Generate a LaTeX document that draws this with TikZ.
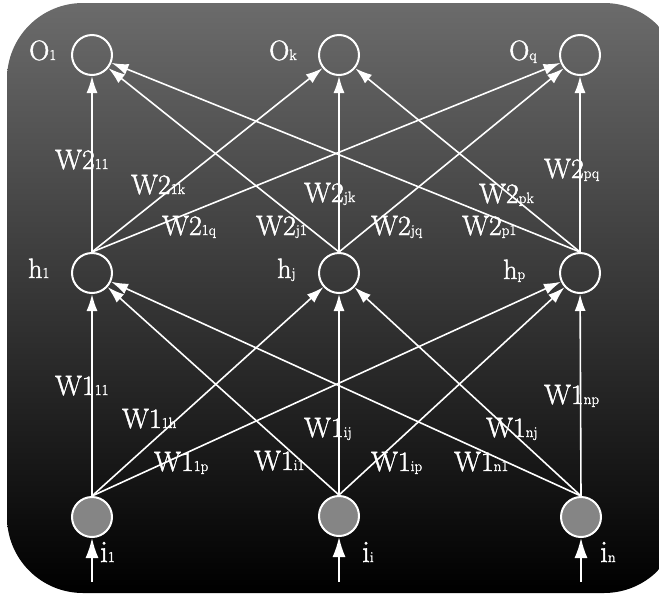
\documentclass[tikz,border=0pt]{standalone}
\usepackage{fontspec}
\usepackage{tikz}
\usetikzlibrary{arrows.meta}
\newfontfamily\labfont{Latin Modern Roman}[FakeBold=1.6]
\newcommand{\sublab}[2]{#1{\fontsize{15}{15}\selectfont #2}}

\begin{document}
\begin{tikzpicture}[x=1pt, y=-1pt,
    unit/.style={circle, draw=white, line width=2pt, minimum size=40pt, inner sep=0pt},
    inunit/.style={unit, fill=black!48},
    wire/.style={white, line width=1.6pt, -{Latex[length=17pt,width=11pt]}},
    feed/.style={wire, -{Latex[length=20pt,width=13pt]}},
    lbl/.style={text=white, anchor=base west, inner sep=0pt, font=\labfont\fontsize{28}{30}\selectfont},
    inlbl/.style={lbl, font=\labfont\fontsize{31}{34}\selectfont}]
    \useasboundingbox (0,0) rectangle (659,595);
    \shade[top color=black!58, middle color=black!70, bottom color=black, rounded corners=76pt] (7,3) rectangle (680,593);
    % units
    \node[unit] (o1) at (92,55) {};
    \node[unit] (ok) at (339,55) {};
    \node[unit] (oq) at (580,55) {};
    \node[unit] (h1) at (92,273) {};
    \node[unit] (hj) at (339,273) {};
    \node[unit] (hp) at (580,273) {};
    \node[inunit] (i1) at (92,517) {};
    \node[inunit] (ii) at (339,516) {};
    \node[inunit] (in) at (581,517) {};
    % unit names
    \node[lbl] (to1) at (29,60) {\sublab{O}{1}};
    \node[lbl] (tok) at (269,60) {\sublab{O}{k}};
    \node[lbl] (toq) at (509,60) {\sublab{O}{q}};
    \node[lbl] (th1) at (28,278) {\sublab{h}{1}};
    \node[lbl] (thj) at (277,278) {\sublab{h}{j}};
    \node[lbl] (thp) at (503,279) {\sublab{h}{p}};
    \node[inlbl] (ti1) at (100,562) {\sublab{i}{1}};
    \node[inlbl] (tii) at (362,562) {\sublab{i}{i}};
    \node[inlbl] (tin) at (600,562) {\sublab{i}{n}};
    % hidden -> output
    \draw[wire] (h1.north) -- (o1);
    \draw[wire] (h1.north) -- (ok);
    \draw[wire] (h1.north) -- (oq);
    \draw[wire] (hj.north) -- (o1);
    \draw[wire] (hj.north) -- (ok);
    \draw[wire] (hj.north) -- (oq);
    \draw[wire] (hp.north) -- (o1);
    \draw[wire] (hp.north) -- (ok);
    \draw[wire] (hp.north) -- (oq);
    % input -> hidden
    \draw[wire] (i1.north) -- (h1);
    \draw[wire] (i1.north) -- (hj);
    \draw[wire] (i1.north) -- (hp);
    \draw[wire] (ii.north) -- (h1);
    \draw[wire] (ii.north) -- (hj);
    \draw[wire] (ii.north) -- (hp);
    \draw[wire] (in.north) -- (h1);
    \draw[wire] (in.north) -- (hj);
    \draw[wire] (in.north) -- (hp);
    % inputs
    \coordinate (b1) at (92,582);
    \coordinate (bi) at (339,582);
    \coordinate (bn) at (581,582);
    \draw[feed] (b1) -- (i1);
    \draw[feed] (bi) -- (ii);
    \draw[feed] (bn) -- (in);
    % weights, second layer
    \node[lbl] (w211) at (55,169) {\sublab{W2}{11}};
    \node[lbl] (w21k) at (131,194) {\sublab{W2}{1k}};
    \node[lbl] (w21q) at (162,235) {\sublab{W2}{1q}};
    \node[lbl] (w2j1) at (256,235) {\sublab{W2}{j1}};
    \node[lbl] (w2jk) at (304,202) {\sublab{W2}{jk}};
    \node[lbl] (w2jq) at (371,235) {\sublab{W2}{jq}};
    \node[lbl] (w2pk) at (479,203) {\sublab{W2}{pk}};
    \node[lbl] (w2p1) at (462,235) {\sublab{W2}{p1}};
    \node[lbl] (w2pq) at (544,178) {\sublab{W2}{pq}};
    % weights, first layer
    \node[lbl] (w111) at (55,395) {\sublab{W1}{11}};
    \node[lbl] (w11h) at (122,428) {\sublab{W1}{1h}};
    \node[lbl] (w11p) at (154,471) {\sublab{W1}{1p}};
    \node[lbl] (w1i1) at (254,470) {\sublab{W1}{i1}};
    \node[lbl] (w1ij) at (304,437) {\sublab{W1}{ij}};
    \node[lbl] (w1ip) at (371,471) {\sublab{W1}{ip}};
    \node[lbl] (w1nj) at (486,437) {\sublab{W1}{nj}};
    \node[lbl] (w1n1) at (454,471) {\sublab{W1}{n1}};
    \node[lbl] (w1np) at (544,404) {\sublab{W1}{np}};
\end{tikzpicture}
\end{document}
